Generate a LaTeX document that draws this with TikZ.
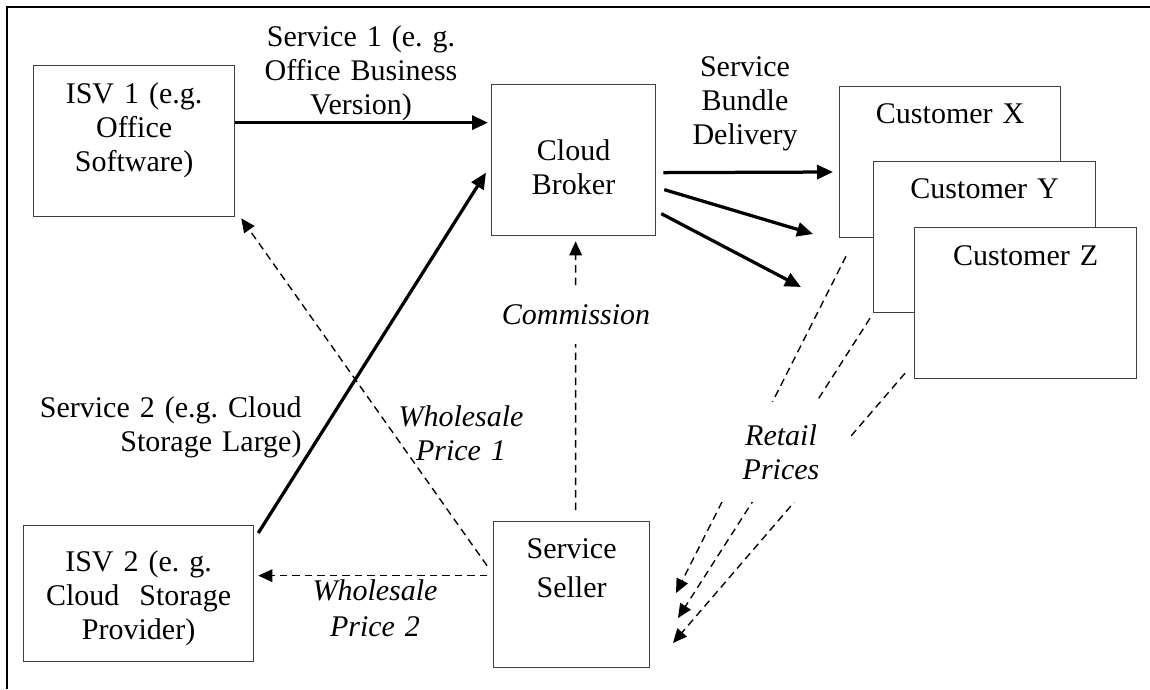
\documentclass[tikz,border=0pt]{standalone}
\usepackage{fontspec}
\setmainfont{Liberation Serif}
\usepackage{tikz}
\usetikzlibrary{arrows.meta}
\frenchspacing

\begin{document}
\begin{tikzpicture}[x=0.4pt, y=-0.4pt]
	\tikzstyle{box}=[draw=black!75, line width=0.5pt, fill=white, inner sep=0pt, align=center, anchor=north west, font=\fontsize{12}{13.6}\selectfont]
	\tikzstyle{lbl}=[inner sep=0pt, align=center, anchor=base, font=\fontsize{12}{13.6}\selectfont]
	\tikzstyle{ilbl}=[lbl, font=\fontsize{12}{13.6}\selectfont\itshape]
	\tikzstyle{service}=[line width=1.3pt, -{Triangle[length=6.4pt, width=5.6pt]}]
	\tikzstyle{payment}=[line width=0.55pt, dash pattern=on 3pt off 2pt, -{Triangle[length=5.6pt, width=5pt]}]
	\useasboundingbox (0,0) rectangle (1150,689);
	\draw[line width=0.8pt] (7,689) -- (7,7) -- (1150,7);

	\node [box, text width=80.4pt, text height=15.2pt, text depth=45.2pt] (isv1) at (33,65) {ISV 1 (e.g.\\ Office\\ Software)};
	\node [box, text width=92pt, text height=18.4pt, text depth=36pt] (isv2) at (23,525) {ISV 2 (e. g.\\ Cloud~ Storage\\ Provider)};
	\node [box, text width=65.6pt, text height=30.4pt, text depth=30pt] (broker) at (491,84) {Cloud\\ Broker};
	\node [box, text width=62.4pt, text height=14.8pt, text depth=43.6pt, font=\fontsize{12}{15.6}\selectfont] (seller) at (493,521) {Service\\ Seller};
	\node [box, text width=88.4pt, text height=14.8pt, text depth=45.6pt] (custX) at (839,86) {Customer X};
	\node [box, text width=88.8pt, text height=14.8pt, text depth=45.6pt] (custY) at (873,161) {Customer Y};
	\node [box, text width=88.8pt, text height=15.2pt, text depth=45.2pt] (custZ) at (914,227) {Customer Z};

	\node [lbl, text width=100pt] (s1) at (361,46) {Service 1 (e. g.\\ Office Business\\ Version)};
	\node [lbl, text width=60pt] (bundle) at (745,76) {Service\\ Bundle\\ Delivery};
	\node [lbl, text width=110pt, align=right, anchor=base east] (s2) at (302,417) {Service 2 (e.g. Cloud\\ Storage Large)};
	\node [ilbl, text width=60pt] (wp1) at (461,426) {Wholesale\\ Price 1};
	\node [ilbl, text width=60pt, font=\fontsize{12}{14.4}\selectfont\itshape] (wp2) at (375,600) {Wholesale\\ Price 2};

	\coordinate (s1out) at ([yshift=7.4pt]isv1.east);
	\draw [service, shorten >=1.2pt] (s1out) -- (s1out -| broker.west);
	\draw [service] ([xshift=1.6pt, yshift=-3.2pt]isv2.north east) -- ([xshift=-2pt, yshift=-5pt]broker.west);

	\coordinate (d1) at (833,172);
	\coordinate (d2) at (813,234);
	\coordinate (d3) at (801,287);
	\draw [service] ([xshift=2.8pt, yshift=-5pt]broker.east) -- (d1);
	\draw [service] ([xshift=3.2pt, yshift=-11.8pt]broker.east) -- (d2);
	\draw [service] ([xshift=2pt, yshift=-21.4pt]broker.east) -- (d3);

	\draw [payment] ([xshift=1.6pt, yshift=4.4pt]seller.north) -- ([xshift=0.8pt, yshift=-2pt]broker.south);
	\draw [payment] ([xshift=-2.4pt, yshift=11.6pt]seller.west) -- ([xshift=2.4pt, yshift=-0.4pt]isv1.south east);
	\coordinate (wp2out) at ([xshift=-2.4pt, yshift=7.6pt]seller.west);
	\draw [payment, shorten >=1.6pt] (wp2out) -- (wp2out -| isv2.east);

	\coordinate (r1) at (676,593);
	\coordinate (r2) at (678,618);
	\coordinate (r3) at (673,643);
	\draw [payment] ([xshift=2.8pt, yshift=-7.2pt]custX.south west) -- (r1);
	\draw [payment] ([xshift=-1.2pt, yshift=-2pt]custY.south west) -- (r2);
	\draw [payment] ([xshift=-3.6pt, yshift=2.4pt]custZ.south west) -- (r3);

	\node [ilbl, anchor=center, fill=white, minimum height=23.2pt] (comm) at (576,315) {Commission};
	\node [ilbl, anchor=center, fill=white, text width=56pt, minimum height=40pt] (retail) at (781,452) {Retail\\ Prices};
\end{tikzpicture}
\end{document}
